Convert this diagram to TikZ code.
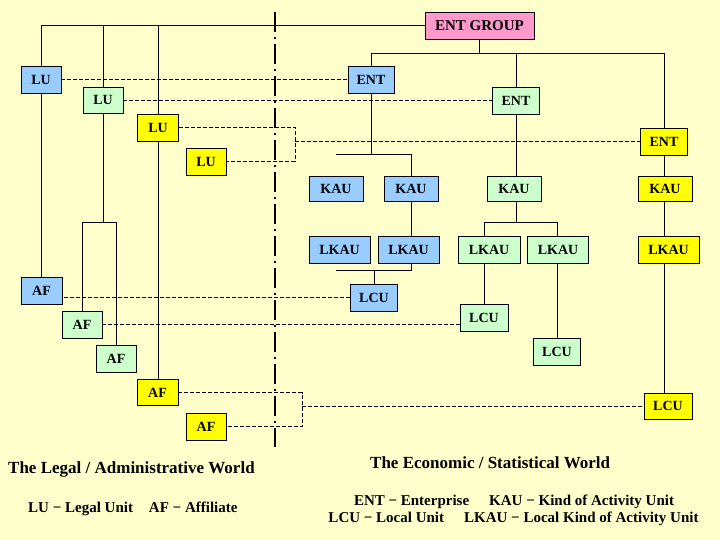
\documentclass[tikz,border=0pt]{standalone}
\usepackage{fontspec}
\setmainfont{Liberation Serif}
\definecolor{bgc}{HTML}{FFFFCC}
\definecolor{bluec}{HTML}{99CCFF}
\definecolor{greenc}{HTML}{CCFFCC}
\definecolor{yellowc}{HTML}{FFFF00}
\definecolor{pinkc}{HTML}{FF99CC}
\pgfdeclarelayer{bg}
\pgfsetlayers{bg,main}
\tikzset{
  unit/.style={draw, line width=0.8pt, inner sep=0pt, minimum height=27pt,
    font=\bfseries\fontsize{14}{14}\selectfont},
  bu/.style={unit, fill=bluec},
  gu/.style={unit, fill=greenc},
  yu/.style={unit, fill=yellowc},
  tree/.style={line width=0.9pt},
  link/.style={line width=0.8pt, dash pattern=on 4pt off 2pt},
  divider/.style={line width=2.6pt, dash pattern=on 20pt off 5pt on 2pt off 5pt},
  title/.style={font=\bfseries\fontsize{17}{19}\selectfont, inner sep=0pt},
  legend/.style={font=\bfseries\fontsize{15}{17}\selectfont, inner sep=0pt},
}
\begin{document}
\begin{tikzpicture}[x=1pt, y=-1pt]
\useasboundingbox (0,0) rectangle (720,540);
% nodes
\node[unit, fill=pinkc, minimum width=109pt, font=\bfseries\fontsize{15}{15}\selectfont] (grp) at (479.5,25.5) {ENT GROUP};
\node[bu, minimum width=40pt] (LU1) at (41,79.5) {LU};
\node[gu, minimum width=40pt, minimum height=26pt] (LU2) at (103,100) {LU};
\node[yu, minimum width=41pt] (LU3) at (158,127.5) {LU};
\node[yu, minimum width=40pt] (LU4) at (206,161.5) {LU};
\node[bu, minimum width=46pt] (ENT1) at (371,79.5) {ENT};
\node[gu, minimum width=47pt] (ENT2) at (516,100.5) {ENT};
\node[yu, minimum width=47pt] (ENT3) at (664,141.5) {ENT};
\node[bu, minimum width=54pt, minimum height=25pt] (KAUb1) at (336,188.5) {KAU};
\node[bu, minimum width=54pt, minimum height=25pt] (KAUb2) at (411,188.5) {KAU};
\node[gu, minimum width=54pt, minimum height=25pt] (KAUg) at (514,188.5) {KAU};
\node[yu, minimum width=54pt, minimum height=25pt] (KAUy) at (665,188.5) {KAU};
\node[bu, minimum width=61pt] (LKAUb1) at (339.5,249.5) {LKAU};
\node[bu, minimum width=61pt] (LKAUb2) at (408.5,249.5) {LKAU};
\node[gu, minimum width=62pt] (LKAUg1) at (489,249.5) {LKAU};
\node[gu, minimum width=61pt] (LKAUg2) at (558,249.5) {LKAU};
\node[yu, minimum width=61pt] (LKAUy) at (668.5,249.5) {LKAU};
\node[bu, minimum width=47pt] (LCUb) at (374,297.5) {LCU};
\node[gu, minimum width=48pt] (LCUg1) at (484,317.5) {LCU};
\node[gu, minimum width=47pt] (LCUg2) at (557,351.5) {LCU};
\node[yu, minimum width=48pt, minimum height=26pt] (LCUy) at (668,406) {LCU};
\node[bu, minimum width=41pt] (AF1) at (41.5,290.5) {AF};
\node[gu, minimum width=40pt] (AF2) at (82,324.5) {AF};
\node[gu, minimum width=40pt] (AF3) at (116,358.5) {AF};
\node[yu, minimum width=41pt, minimum height=26pt] (AF4) at (157.5,392.5) {AF};
\node[yu, minimum width=40pt] (AF5) at (206,426.5) {AF};
% junction points
\coordinate (b1) at (0,53);
\coordinate (b2) at (103,222);
\coordinate (b3) at (0,154);
\coordinate (b4) at (0,222);
\coordinate (b5) at (0,270);
\coordinate (c1) at (295,0);
\coordinate (c2) at (302,0);
\coordinate (d1) at (275,12);
\coordinate (d2) at (275,447);
% texts
\node[title, anchor=west] (tl) at (8,469) {The Legal / Administrative World};
\node[legend, anchor=west] (ll) at (28,509) {LU − Legal Unit\hspace{16pt}AF − Affiliate};
\node[title, anchor=west] (te) at (370,463) {The Economic / Statistical World};
\node[legend] (le1) at (514,502) {ENT − Enterprise\hspace{20pt}KAU − Kind of Activity Unit};
\node[legend] (le2) at (513.5,519) {LCU − Local Unit\hspace{20pt}LKAU − Local Kind of Activity Unit};
\begin{pgfonlayer}{bg}
\fill[bgc] (0,0) rectangle (720,540);
% legal tree
\draw[tree] (grp.west) -- (grp.west -| AF1.north) -- (AF1.north);
\draw[tree] (b2 |- grp.west) -- (b2);
\draw[tree] (AF2.north) -- (AF2.north |- b2) -- (AF3.north |- b2) -- (AF3.north);
\draw[tree] (LU3 |- grp.west) -- (LU3 |- AF4.north);
% economic tree
\draw[tree] (grp.south) -- (grp.south |- b1);
\draw[tree] (ENT1 |- b1) -- (ENT3 |- b1);
\draw[tree] (ENT1 |- b1) -- (ENT1 |- b3);
\draw[tree] (KAUb1 |- b3) -- (KAUb2 |- b3) -- (KAUb2.north);
\draw[tree] (KAUb2.south) -- (KAUb2 |- LKAUb2.north);
\draw[tree] (KAUb2 |- LKAUb2.south) -- (KAUb2 |- b5) -- (KAUb1 |- b5);
\draw[tree] (LCUb.north) -- (LCUb |- b5);
\draw[tree] (ENT2 |- b1) -- (ENT2 |- KAUg.north);
\draw[tree] (ENT2 |- KAUg.south) -- (ENT2 |- b4);
\draw[tree] (LCUg1 |- b4) -- (LCUg2 |- b4);
\draw[tree] (LCUg1 |- b4) -- (LCUg1.north);
\draw[tree] (LCUg2 |- b4) -- (LCUg2.north);
\draw[tree] (ENT3 |- b1) -- (ENT3 |- LCUy.north);
% cross links
\draw[link] (LU1.east) -- (ENT1.west);
\draw[link] (LU2.east) -- (ENT2.west |- LU2.east);
\draw[link] (LU3.east) -- (LU3.east -| c1) -- (LU4.east -| c1) -- (LU4.east);
\draw[link] (c1 |- ENT3.west) -- (ENT3.west);
\draw[link] (LCUb.west) -- (LCUb.west -| AF1.east);
\draw[link] (AF2.east) -- (AF2.east -| LCUg1.west);
\draw[link] (AF4.east) -- (AF4.east -| c2) -- (AF5.east -| c2) -- (AF5.east);
\draw[link] (c2 |- LCUy.west) -- (LCUy.west);
% divider
\draw[divider] (d1) -- (d2);
\end{pgfonlayer}
\end{tikzpicture}
\end{document}
